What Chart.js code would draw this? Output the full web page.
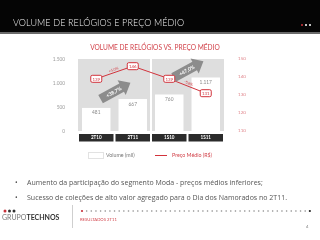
<!DOCTYPE html>
<html>
<head>
<meta charset="utf-8">
<script src="https://cdn.jsdelivr.net/npm/chart.js@4"></script>
<style>
  html, body { margin: 0; padding: 0; background: #fff; }
  body { width: 320px; height: 240px; position: relative; overflow: hidden; font-family: Lato, "Open Sans", sans-serif; }
  #header { position: absolute; left: 0; top: 0; width: 320px; height: 32px; background: #050505; border-bottom: 2px solid #6a6a6a; }
  #header .t { position: absolute; left: 13px; top: 17px; color: #f2f2f2; font-size: 9px; font-weight: 300; letter-spacing: 0.1px; }
  .dot { position: absolute; width: 2.4px; height: 2.4px; border-radius: 50%; top: 24px; }
  #chartTitle { position: absolute; left: 0; width: 310px; top: 43px; text-align: center; color: #d2434b; font-size: 6.6px; }
  #wrap { position: absolute; left: 0; top: 0; width: 320px; height: 240px; }
  .leg { position: absolute; font-size: 5.3px; }
  .bul { position: absolute; left: 15px; font-size: 7px; color: #555; font-family: "Open Sans", sans-serif; }
  .bul span { position: absolute; left: 12px; white-space: nowrap; }
</style>
</head>
<body>
<div id="wrap"><canvas id="canvas" width="320" height="240"></canvas></div>

<div id="header">
  <div class="t">VOLUME DE RELÓGIOS E PREÇO MÉDIO</div>
  <div class="dot" style="left:301px;background:#d2333c"></div>
  <div class="dot" style="left:305px;background:#fff"></div>
  <div class="dot" style="left:309px;background:#fff"></div>
</div>
<div id="chartTitle">VOLUME DE RELÓGIOS VS. PREÇO MÉDIO</div>

<div class="leg" style="left:88px;top:152px;width:14px;height:5px;border:1px solid #e2e2e2;background:#fff"></div>
<div class="leg" style="left:106px;top:151.5px;color:#777">Volume (mil)</div>
<div class="leg" style="left:155px;top:155px;width:12px;height:1.3px;background:#d2333c"></div>
<div class="leg" style="left:172px;top:151.5px;color:#d2434b">Preço Médio (R$)</div>

<div class="bul" style="top:178px">•<span>Aumento da participação do segmento Moda - preços médios inferiores;</span></div>
<div class="bul" style="top:193px">•<span>Sucesso de coleções de alto valor agregado para o Dia dos Namorados no 2T11.</span></div>

<canvas id="footer" width="320" height="40" style="position:absolute;left:0;top:200px"></canvas>

<script>
// chart data
const categories = ['2T10', '2T11', '1S10', '1S11'];
const volume = [481, 667, 760, 1117];       // Volume (mil)
const avgPrice = [139, 146, 139, 131];      // Preço Médio (R$)
const volumeTicks = [0, 500, 1000, 1500];
const priceTicks = [110, 120, 130, 140, 150];

const red = '#d2333c';

function fmt(n) {
    return String(n).replace(/\B(?=(\d{3})+(?!\d))/g, '.');
}
function pct(a, b) {
    var p = (b / a - 1) * 100;
    return (p >= 0 ? '+' : '') + p.toFixed(1).replace('.', ',') + '%';
}

// background, separator and the black category boxes
var backdrop = {
    id: 'backdrop',
    beforeDatasetsDraw(chart) {
        var ctx = chart.ctx, a = chart.chartArea, x = chart.scales.x;
        ctx.save();
        ctx.fillStyle = '#dedede';
        ctx.fillRect(a.left, a.top, a.right - a.left, a.bottom - a.top);
        // white line between the 2T and 1S groups
        var sx = x.getPixelForValue(1.5);
        ctx.fillStyle = '#fff';
        ctx.fillRect(sx - 1, a.top, 2, a.bottom - a.top);
        // category boxes
        var w = (a.right - a.left) / categories.length;
        ctx.font = 'bold 4.6px Lato';
        ctx.textAlign = 'center';
        ctx.textBaseline = 'middle';
        categories.forEach(function (c, i) {
            var cx = x.getPixelForValue(i);
            ctx.fillStyle = '#2b2b2b';
            ctx.fillRect(cx - w / 2 + 1, a.bottom + 3, w - 2, 7.5);
            ctx.fillStyle = '#fff';
            ctx.fillText(c, cx, a.bottom + 7);
        });
        ctx.restore();
    }
};

function drawArrow(ctx, cx, cy, ang, label) {
    ctx.save();
    ctx.translate(cx, cy);
    ctx.rotate(ang);
    ctx.fillStyle = '#8c8c8c';
    ctx.beginPath();
    ctx.moveTo(-17, -4.8);
    ctx.lineTo(7, -4.8);
    ctx.lineTo(7, -8.5);
    ctx.lineTo(17, 0);
    ctx.lineTo(7, 8.5);
    ctx.lineTo(7, 4.8);
    ctx.lineTo(-17, 4.8);
    ctx.closePath();
    ctx.fill();
    ctx.fillStyle = '#fff';
    ctx.font = 'bold 5px Lato';
    ctx.textAlign = 'center';
    ctx.textBaseline = 'middle';
    ctx.fillText(label, -2, 0.3);
    ctx.restore();
}

var marks = {
    id: 'marks',
    afterDatasetsDraw(chart) {
        var ctx = chart.ctx;
        var bars = chart.getDatasetMeta(0).data;
        var pts = chart.getDatasetMeta(1).data;
        ctx.save();
        // bar values
        ctx.font = '4.8px Lato';
        ctx.fillStyle = '#8a8a8a';
        ctx.textAlign = 'center';
        ctx.textBaseline = 'middle';
        bars.forEach(function (b, i) {
            ctx.fillText(fmt(volume[i]), b.x, b.y + 5);
        });
        // growth arrows for each pair
        for (var g = 0; g < 2; g++) {
            var b0 = bars[g * 2], b1 = bars[g * 2 + 1];
            var top = Math.min(b0.y, b1.y);
            drawArrow(ctx, (b0.x + b1.x) / 2 + 1, top - 8, -0.5, pct(volume[g * 2], volume[g * 2 + 1]));
        }
        // price line change labels
        for (var g = 0; g < 2; g++) {
            var p0 = pts[g * 2], p1 = pts[g * 2 + 1];
            var ang = Math.atan2(p1.y - p0.y, p1.x - p0.x);
            ctx.save();
            ctx.translate((p0.x + p1.x) / 2, (p0.y + p1.y) / 2);
            ctx.rotate(ang);
            ctx.font = '3.6px Lato';
            ctx.fillStyle = red;
            ctx.fillText(pct(avgPrice[g * 2], avgPrice[g * 2 + 1]), 0, -3);
            ctx.restore();
        }
        // price boxes
        pts.forEach(function (p, i) {
            ctx.fillStyle = '#fff';
            ctx.strokeStyle = red;
            ctx.lineWidth = 1;
            ctx.beginPath();
            ctx.roundRect(p.x - 5.5, p.y - 3.5, 11, 7, 1.5);
            ctx.fill();
            ctx.stroke();
            ctx.fillStyle = red;
            ctx.font = '4.4px Lato';
            ctx.fillText(avgPrice[i], p.x, p.y + 0.3);
        });
        ctx.restore();
    }
};

var ctx = document.getElementById('canvas').getContext('2d');
var myChart = new Chart(ctx, {
    type: 'bar',
    data: {
        labels: categories,
        datasets: [{
            label: 'Volume (mil)',
            data: volume,
            backgroundColor: '#ffffff',
            borderWidth: 0,
            barPercentage: 0.78,
            categoryPercentage: 1,
            order: 2
        }, {
            type: 'line',
            label: 'Preço Médio (R$)',
            data: avgPrice,
            yAxisID: 'y1',
            borderColor: red,
            borderWidth: 1,
            pointRadius: 0,
            order: 1
        }]
    },
    options: {
        animation: false,
        responsive: false,
        events: [],
        layout: { padding: { left: 40, right: 56, top: 59, bottom: 97 } },
        plugins: { legend: { display: false }, title: { display: false }, tooltip: { enabled: false } },
        scales: {
            x: {
                grid: { display: false },
                border: { display: false },
                ticks: { display: false },
                afterFit: function (s) { s.height = 12; }
            },
            y: {
                min: 0, max: 1500,
                grid: { display: false },
                border: { display: false },
                afterBuildTicks: function (s) { s.ticks = volumeTicks.map(v => ({ value: v })); },
                ticks: { color: '#9a9a9a', font: { size: 4.8, family: 'Lato' }, padding: 5, callback: v => fmt(v) },
                afterFit: function (s) { s.width = 38; }
            },
            y1: {
                position: 'right',
                min: 110, max: 150,
                grid: { display: false },
                border: { display: false },
                afterBuildTicks: function (s) { s.ticks = priceTicks.map(v => ({ value: v })); },
                ticks: { color: '#e0868c', font: { size: 4.6, family: 'Lato' }, padding: 6 },
                afterFit: function (s) { s.width = 40; }
            }
        }
    },
    plugins: [backdrop, marks]
});

// footer: logo, separator, dotted rule, page number
var f = document.getElementById('footer').getContext('2d');
f.fillStyle = '#c9303a';
f.beginPath(); f.arc(5, 11, 1.5, 0, 7); f.fill();
f.fillStyle = '#333';
f.beginPath(); f.arc(9.5, 11, 1.5, 0, 7); f.fill();
f.beginPath(); f.arc(14, 11, 1.5, 0, 7); f.fill();
f.font = '7px Lato';
f.fillStyle = '#777';
f.textBaseline = 'middle';
f.fillText('GRUPO', 2, 18);
var gw = f.measureText('GRUPO').width;
f.font = 'bold 7px Lato';
f.fillStyle = '#333';
f.fillText('TECHNOS', 2 + gw, 18);
f.fillStyle = '#cfcfcf';
f.fillRect(72, 5, 1, 23);
for (var i = 0; i < 50; i++) {
    f.fillStyle = i === 0 ? '#c9303a' : (i === 49 ? '#222' : '#8a8a8a');
    f.beginPath(); f.arc(82 + i * 4.65, 11, i === 0 || i === 49 ? 1.1 : 0.8, 0, 7); f.fill();
}
f.font = '4.2px Lato';
f.fillStyle = '#d2434b';
f.fillText('RESULTADOS 2T11', 80, 20);
f.fillStyle = '#888';
f.font = '4.5px Lato';
f.fillText('4', 306, 27);
</script>
</body>
</html>
